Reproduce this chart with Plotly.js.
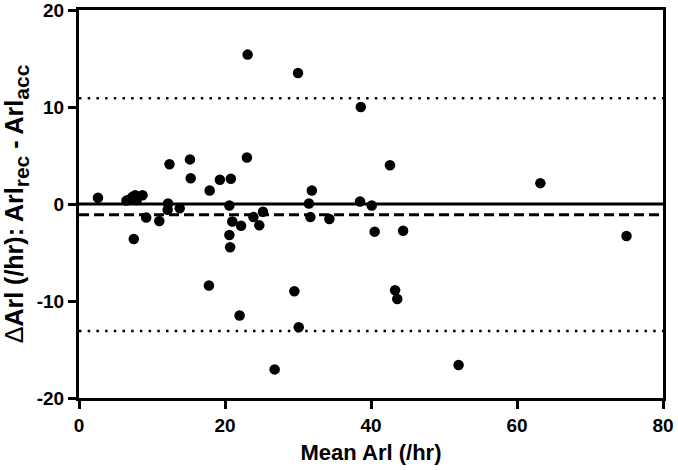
<!DOCTYPE html>
<html>
<head>
<meta charset="utf-8">
<script src="https://cdn.plot.ly/plotly-3.0.1.min.js"></script>
<style>html,body{margin:0;padding:0;background:#fff;}#chart{width:678px;height:470px;}</style>
</head>
<body>
<div id="chart"></div>
<script>
// Mean Arl (/hr)
var meanArl = [2.6, 6.5, 7.0, 7.35, 7.7, 7.9, 8.7, 7.5, 9.2, 11.0,
  12.4, 12.2, 12.15, 13.8, 15.2, 15.3, 17.9, 19.3, 20.8, 20.6,
  21.0, 22.2, 20.6, 20.7, 23.0, 17.8, 22.0, 23.1, 30.0, 38.6,
  42.6, 31.9, 31.5, 31.7, 34.3, 38.5, 40.1, 40.5, 44.4, 23.9,
  24.7, 25.2, 29.5, 43.3, 43.6, 30.1, 26.8, 52.0, 63.2, 75.0];
// Difference Arl_rec - Arl_acc (/hr)
var diffArl = [0.65, 0.35, 0.5, 0.75, 0.9, 0.4, 0.9, -3.6, -1.4, -1.75,
  4.1, 0.05, -0.6, -0.45, 4.6, 2.65, 1.4, 2.5, 2.6, -0.15,
  -1.8, -2.25, -3.2, -4.45, 4.8, -8.4, -11.5, 15.4, 13.5, 10.0,
  4.0, 1.4, 0.05, -1.35, -1.55, 0.25, -0.15, -2.85, -2.75, -1.35,
  -2.2, -0.8, -9.0, -8.9, -9.8, -12.7, -17.05, -16.6, 2.15, -3.3];
var meanDiff = -1.1;
var upperLoA = 10.9;
var lowerLoA = -13.1;
var xTicks = [0, 20, 40, 60, 80];
var yTicks = [-20, -10, 0, 10, 20];

var fontFam = '"Liberation Sans", Arial, sans-serif';

var data = [{
  type: 'scatter', mode: 'markers', x: meanArl, y: diffArl,
  marker: {color: '#000', size: 10.5, line: {width: 0}},
  hoverinfo: 'x+y', showlegend: false, cliponaxis: false
}];

function hline(y, dash, width) {
  return {type: 'line', xref: 'paper', x0: 0, x1: 1, yref: 'y', y0: y, y1: y,
    line: {color: '#000', width: width, dash: dash}, layer: 'below'};
}

var layout = {
  width: 678, height: 470,
  margin: {l: 79, r: 15, t: 10, b: 72},
  paper_bgcolor: '#fff', plot_bgcolor: '#fff',
  font: {family: fontFam, color: '#000'},
  showlegend: false,
  xaxis: {
    range: [0, 80], tickvals: xTicks, ticktext: xTicks.map(String),
    showgrid: false, zeroline: false, ticklabeloverflow: 'allow',
    showline: true, linecolor: '#000', linewidth: 3, mirror: true,
    ticks: 'outside', ticklen: 8, tickwidth: 3, tickcolor: '#000',
    tickfont: {size: 19, family: fontFam, weight: 'bold'},
    title: {text: 'Mean Arl (/hr)', font: {size: 22, family: fontFam, weight: 'bold'}, standoff: 10}
  },
  yaxis: {
    range: [-20, 20], tickvals: yTicks, ticktext: yTicks.map(String),
    showgrid: false, zeroline: false, ticklabeloverflow: 'allow',
    showline: true, linecolor: '#000', linewidth: 3, mirror: true,
    ticks: 'outside', ticklen: 8, tickwidth: 3, tickcolor: '#000',
    tickfont: {size: 19, family: fontFam, weight: 'bold'},
    title: {
      text: '<span style="font-weight:normal">\u0394</span>Arl (/hr): Arl<sub><span style="font-size:21px">rec</span></sub> - Arl<sub><span style="font-size:21px">acc</span></sub>',
      font: {size: 25, family: fontFam, weight: 'bold'}, standoff: 6
    }
  },
  shapes: [
    hline(0, 'solid', 3),
    hline(meanDiff, '10px,5px', 3),
    hline(upperLoA, '2.5px,6.2px', 2.5),
    hline(lowerLoA, '2.5px,6.2px', 2.5)
  ]
};

Plotly.newPlot('chart', data, layout, {displayModeBar: false, staticPlot: true});
</script>
</body>
</html>
